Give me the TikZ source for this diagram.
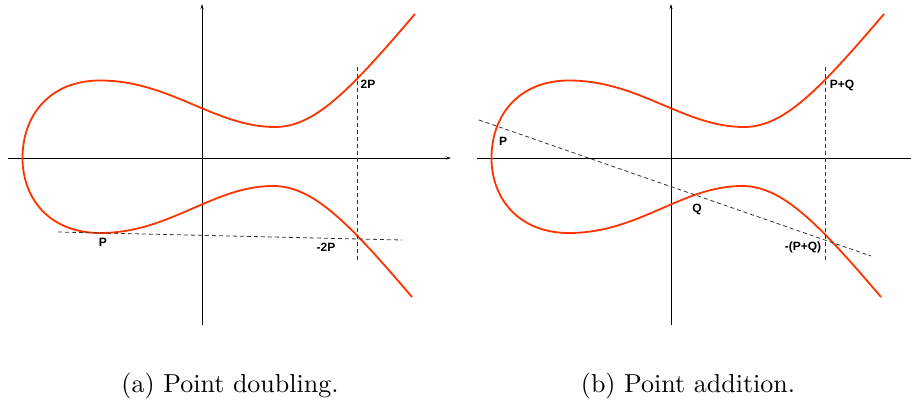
\documentclass[tikz,border=0pt]{standalone}
\usepackage{fontspec}
\newfontfamily\labelfont{Liberation Sans}
\newfontfamily\capfont{lmroman10-regular.otf}
\usetikzlibrary{positioning, arrows.meta}
\definecolor{curvered}{RGB}{255,51,0}
\tikzset{
    >={Stealth[length=5pt,width=3pt]}, % small heads on the axes
    axis/.style={line width=0.9pt, black},
    curve/.style={line width=1.8pt, curvered, line join=round},
    guide/.style={line width=0.8pt, dash pattern=on 4pt off 3pt, black!80},
    point/.style={font=\labelfont\bfseries\fontsize{12}{14}\selectfont, inner sep=0pt},
    caption/.style={font=\capfont\fontsize{26}{31}\selectfont, anchor=base}
}
% the cubic, drawn once for each panel
\newcommand{\ellcurve}{%
    \draw[curve] (415,14) .. controls (350,90) and (315,127) .. (275,127)
        .. controls (215,127) and (170,80.5) .. (100,80.5)
        .. controls (50,80.5) and (22.5,115) .. (22.5,158)
        .. controls (22.5,199) and (50,233) .. (100,233)
        .. controls (170,233) and (213,186) .. (273,186)
        .. controls (313,186) and (348,222) .. (412,297);}

\begin{document}
\begin{tikzpicture}[x=1pt, y=-1pt]
    \useasboundingbox (0,0) rectangle (911,409);

    % (a) point doubling
    \coordinate (xa0) at (8,158);
    \coordinate (xa1) at (451,158);
    \coordinate (ya0) at (202,325);
    \coordinate (ya1) at (202,4);
    \draw[axis,->] (xa0) -- (xa1);
    \draw[axis,->] (ya0) -- (ya1);
    \ellcurve
    \coordinate (ta0) at (58,232);
    \coordinate (ta1) at (402,240);
    \coordinate (va0) at (357,67);
    \coordinate (va1) at (357,260);
    \draw[guide] (ta0) -- (ta1);
    \draw[guide] (va0) -- (va1);
    \node[point] (pa) at (103,242) {P};
    \node[point] (twop) at (368,84) {2P};
    \node[point] (mtwop) at (326,247) {-2P};
    \node[caption] (capa) at (230,392) {(a) Point doubling.};

    % (b) point addition
    \coordinate (xb0) at (477,158);
    \coordinate (xb1) at (912,158);
    \coordinate (yb0) at (671,325);
    \coordinate (yb1) at (671,4);
    \draw[axis] (xb0) -- (xb1);
    \draw[axis,->] (yb0) -- (yb1);
    \begin{scope}[xshift=469pt]
        \ellcurve
    \end{scope}
    \coordinate (tb0) at (479,120);
    \coordinate (tb1) at (871,256);
    \coordinate (vb0) at (825,67);
    \coordinate (vb1) at (825,260);
    \draw[guide] (tb0) -- (tb1);
    \draw[guide] (vb0) -- (vb1);
    \node[point] (pb) at (503,141) {P};
    \node[point] (qb) at (697,209) {Q};
    \node[point] (mpq) at (803,247) {-(P+Q)};
    \node[point] (ppq) at (842,85) {P+Q};
    \node[caption] (capb) at (688,392) {(b) Point addition.};
\end{tikzpicture}
\end{document}
